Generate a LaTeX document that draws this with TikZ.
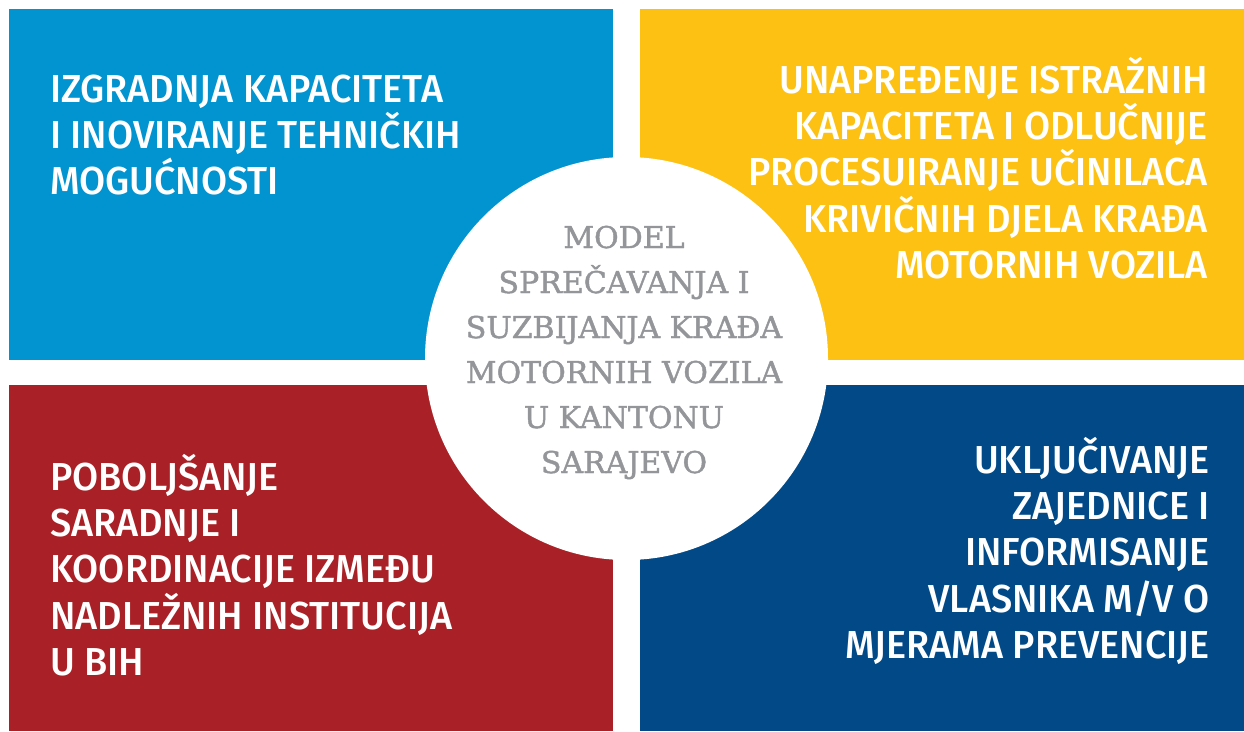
\documentclass[tikz,border=0pt]{standalone}
\usepackage{fontspec}
\setmainfont{Fira Sans}
\newfontfamily\boxfont{Fira Sans Medium}[FakeStretch=0.97]
\newfontfamily\slabfont{DejaVu Serif}[FakeBold=1.4]
\definecolor{cblue}{RGB}{1,148,208}
\definecolor{cyellow}{RGB}{253,193,19}
\definecolor{cred}{RGB}{169,33,38}
\definecolor{cnavy}{RGB}{1,74,135}
\definecolor{cgray}{RGB}{147,149,152}
\tikzset{
  quad/.style={fill=#1, draw=none},
  boxtext/.style={inner sep=0pt, text=white, font=\boxfont\fontsize{39}{46.4}\selectfont},
  centertext/.style={inner sep=0pt, text=cgray, font=\slabfont\fontsize{30}{45}\selectfont}
}
\begin{document}
\begin{tikzpicture}[x=1pt,y=-1pt]
\useasboundingbox (0,0) rectangle (1244,731);
\fill[white] (0,0) rectangle (1244,731);
\path[quad=cblue] (9,9) rectangle (613,360);
\path[quad=cyellow] (640,9) rectangle (1244,360);
\path[quad=cred] (9,385) rectangle (613,731);
\path[quad=cnavy] (640,385) rectangle (1244,731);
\node[circle, fill=white, draw=none, minimum size=403pt, inner sep=0pt] (hub) at (626.5,358.5) {};
\node[boxtext, anchor=base west] (tl) at (50,102)
  {\parbox[t]{540pt}{\raggedright IZGRADNJA KAPACITETA\\I INOVIRANJE TEHNIČKIH\\MOGUĆNOSTI}};
\node[boxtext, anchor=base east] (tr) at (1208,93)
  {\parbox[t]{540pt}{\raggedleft UNAPREĐENJE ISTRAŽNIH\\KAPACITETA I ODLUČNIJE\\PROCESUIRANJE UČINILACA\\KRIVIČNIH DJELA KRAĐA\\MOTORNIH VOZILA}};
\node[boxtext, anchor=base west] (bl) at (50,490)
  {\parbox[t]{540pt}{\raggedright POBOLJŠANJE\\SARADNJE I\\KOORDINACIJE IZMEĐU\\NADLEŽNIH INSTITUCIJA\\U BIH}};
\node[boxtext, anchor=base east] (br) at (1210,473)
  {\parbox[t]{540pt}{\raggedleft UKLJUČIVANJE\\ZAJEDNICE I\\INFORMISANJE\\VLASNIKA M/V O\\MJERAMA PREVENCIJE}};
\node[centertext, anchor=base] (title) at (624,248)
  {\parbox[t]{380pt}{\centering MODEL\\SPREČAVANJA I\\SUZBIJANJA KRAĐA\\MOTORNIH VOZILA\\U KANTONU\\SARAJEVO}};
\end{tikzpicture}
\end{document}
